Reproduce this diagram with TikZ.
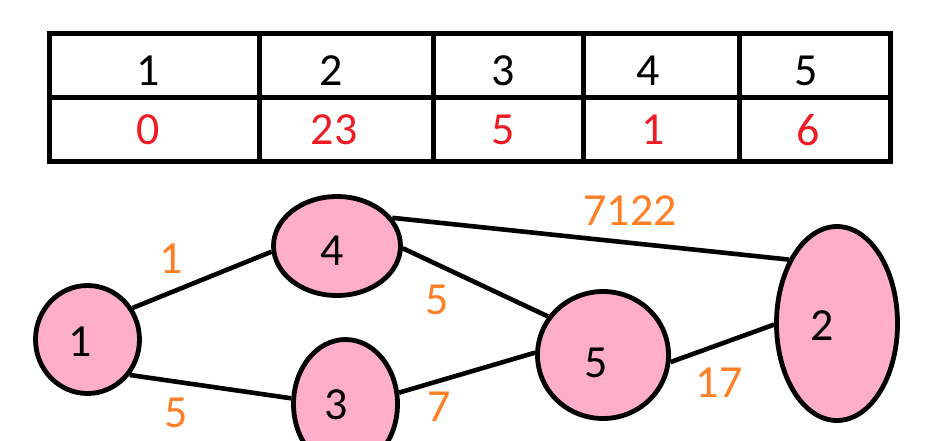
\documentclass[tikz,border=0pt]{standalone}
\usepackage{fontspec}
\setmainfont{Carlito}
\usepackage{tikz}
\usetikzlibrary{shapes.geometric}
\definecolor{vpink}{RGB}{255,174,201}
\definecolor{dred}{RGB}{237,28,36}
\definecolor{worange}{RGB}{255,127,39}

\begin{document}
\begin{tikzpicture}[x=1pt, y=-1pt,
  digits/.style={font=\fontsize{46}{52}\selectfont, inner sep=0pt},
  vertex/.style={draw, ellipse, line width=4.8pt, fill=vpink, inner sep=0pt},
  weight/.style={digits, text=worange},
  edge/.style={line width=4.6pt}]
  \useasboundingbox (0,0) rectangle (940,440);

  % Distance table
  \draw[line width=5pt] (49,33) rectangle (890,161);
  \draw[line width=5pt] (49,97) -- (890,97);
  \foreach \x in {259,433.5,583,739}
    \draw[line width=5pt] (\x,33) -- (\x,161);
  \foreach \xa/\xb/\k/\d [count=\i] in {148/148/1/0, 331/334/2/23, 503/503/3/5, 648/653/4/1, 806/808/5/6} {
    \node[digits] (key\i) at (\xa,71) {\k};
    \node[digits, text=dred] (dist\i) at (\xb,130) {\d};
  }

  % Graph
  \node[vertex, minimum width=104pt, minimum height=108pt,
    label={[digits, xshift=-7.5pt, yshift=-2.5pt]center:1}] (v1) at (87.5,339.5) {};
  \node[vertex, minimum width=127pt, minimum height=99pt,
    label={[digits, xshift=-5pt, yshift=-5pt]center:4}] (v4) at (337,246) {};
  \node[vertex, minimum width=104pt, minimum height=129pt,
    label={[digits, xshift=-9.5pt, yshift=-1pt]center:3}] (v3) at (345.5,404) {};
  \node[vertex, minimum width=131pt, minimum height=127pt,
    label={[digits, xshift=-7pt, yshift=-8pt]center:5}] (v5) at (603,355) {};
  \node[vertex, minimum width=121pt, minimum height=194pt,
    label={[digits, xshift=-15pt, yshift=-2.5pt]center:2}] (v2) at (837,323.5) {};

  \draw[edge] (v1.35) -- (v4.185);
  \draw[edge] (v1.-40) -- (v3.174);
  \draw[edge] (v4.27) -- (v2.127);
  \draw[edge] (v4.-2) -- (v5.145);
  \draw[edge] (v3.12) -- (v5.178);
  \draw[edge] (v5.-6) -- (v2.181);

  % Edge weights
  \node[weight] (w14) at (171,259) {1};
  \node[weight] (w13) at (176,413) {5};
  \node[weight] (w45) at (437,300) {5};
  \node[weight] (w35) at (439,407) {7};
  \node[weight] (w42) at (630,211) {7122};
  \node[weight] (w52) at (719,383) {17};
\end{tikzpicture}
\end{document}
